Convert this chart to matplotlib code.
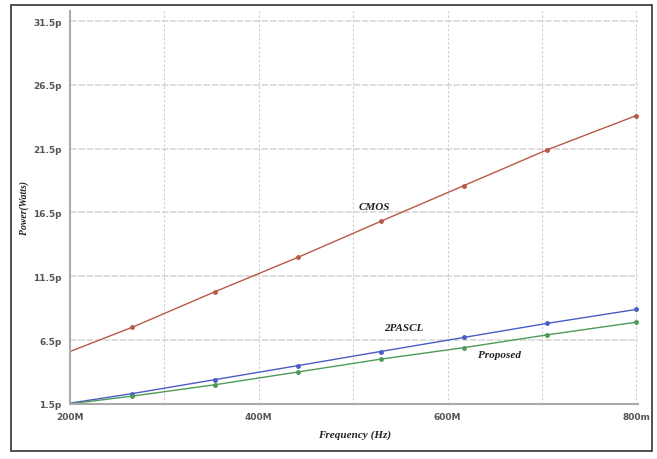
import numpy as np
from matplotlib import pyplot as plt
from matplotlib.patches import Rectangle

# frequency in MHz, power in pW
freq = [200, 266, 354, 442, 529, 617, 705, 800]
cmos = [5.6, 7.5, 10.3, 13.0, 15.8, 18.6, 21.4, 24.1]
pascl = [1.55, 2.3, 3.4, 4.5, 5.6, 6.7, 7.8, 8.9]
proposed = [1.5, 2.1, 3.0, 4.0, 5.0, 5.9, 6.9, 7.9]

yticks = [1.5, 6.5, 11.5, 16.5, 21.5, 26.5, 31.5]
ytick_labels = ["1.5p", "6.5p", "11.5p", "16.5p", "21.5p", "26.5p", "31.5p"]
xticks = [200, 400, 600, 800]
xtick_labels = ["200M", "400M", "600M", "800m"]
xgrid = [300, 400, 500, 600, 700, 800]

fig = plt.figure(figsize=(6.57, 4.6), dpi=100)
ax = fig.add_axes([0.1065, 0.12, 0.865, 0.854])

ax.plot(freq, cmos, color="#b85a48", lw=1.0, marker="o", ms=2.5, markevery=range(1, len(freq)))
ax.plot(freq, pascl, color="#4a5cc4", lw=1.0, marker="o", ms=2.5, markevery=range(1, len(freq)))
ax.plot(freq, proposed, color="#4f9a58", lw=1.0, marker="o", ms=2.5, markevery=range(1, len(freq)))

ax.set_xlim(200, 802)
ax.set_ylim(1.6, 32.3)

for y in yticks[1:]:
    ax.axhline(y, color="#d8d8d8", lw=1.2, ls=(0, (4, 1)), zorder=0)
for x in xgrid:
    ax.axvline(x, color="#cccccc", lw=0.8, ls=(0, (2, 2)), zorder=0)

ax.set_xticks(xticks)
ax.set_xticklabels(xtick_labels)
ax.set_yticks(yticks)
ax.set_yticklabels(ytick_labels)
ax.tick_params(length=0, labelsize=6.5, colors="#555555", pad=6)
for lab in ax.get_xticklabels() + ax.get_yticklabels():
    lab.set_fontweight("bold")

for side in ["top", "right"]:
    ax.spines[side].set_visible(False)
for side in ["left", "bottom"]:
    ax.spines[side].set_color("#aaaaaa")
    ax.spines[side].set_linewidth(1.5)

font = dict(family="Liberation Serif", style="italic", weight="bold", color="#222222")
ax.text(522, 17.0, "CMOS", fontsize=8, ha="center", va="center", **font)
ax.text(554, 7.5, "2PASCL", fontsize=8, ha="center", va="center", **font)
ax.text(655, 5.4, "Proposed", fontsize=8, ha="center", va="center", **font)

ax.set_xlabel("Frequency (Hz)", fontsize=8, labelpad=6, **font)
ax.set_ylabel("Power(Watts)", fontsize=7, labelpad=3, **font)

# outer frame around the whole picture
fig.patches.append(Rectangle((11 / 657, 8 / 460), 641 / 657, 446 / 460,
                             transform=fig.transFigure, fill=False,
                             edgecolor="#333333", lw=1.2))

fig.savefig("out.png", dpi=100)
